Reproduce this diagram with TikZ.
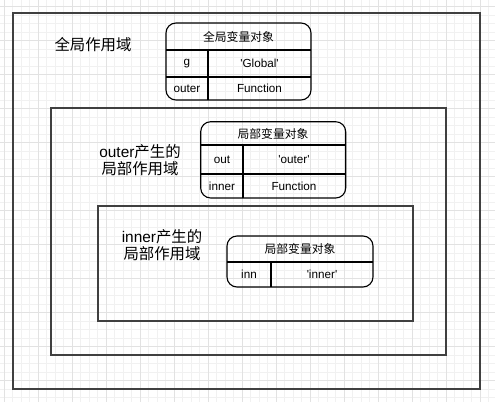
\documentclass[tikz,border=0pt]{standalone}
\usepackage{fontspec}
\setmainfont{Liberation Sans}
\newfontfamily\cjk{Noto Sans CJK SC}
\usetikzlibrary{positioning}
\definecolor{gridminor}{HTML}{F1F1F1}
\definecolor{gridmajor}{HTML}{E2E2E2}

\tikzset{
  scopebox/.style={draw=black!75, line width=1.3pt},
  vartable/.style={draw=black, line width=1.1pt, rounded corners=10pt},
  tabline/.style={draw=black, line width=1.1pt},
  cell/.style={font=\fontsize{11.7}{14}\selectfont, inner sep=0pt},
  headcell/.style={font=\fontsize{11.8}{14}\selectfont\cjk, inner sep=0pt},
  scopelabel/.style={font=\fontsize{15.4}{16.5}\selectfont\cjk, align=center, inner sep=0pt},
}

\begin{document}
\begin{tikzpicture}[x=1pt, y=-1pt]
  \useasboundingbox (0,0) rectangle (495,402);
  \fill[white] (0,0) rectangle (495,402);

  % background grid
  \foreach \i in {0,...,59} {
    \draw[gridminor, line width=0.6pt] ({-4.3+8.5*\i},0) -- ({-4.3+8.5*\i},402);
  }
  \foreach \j in {0,...,48} {
    \draw[gridminor, line width=0.6pt] (0,{-2+8.5*\j}) -- (495,{-2+8.5*\j});
  }
  \foreach \i in {0,...,15} {
    \draw[gridmajor, line width=0.6pt] ({4.2+34*\i},0) -- ({4.2+34*\i},402);
  }
  \foreach \j in {0,...,12} {
    \draw[gridmajor, line width=0.6pt] (0,{6.5+34*\j}) -- (495,{6.5+34*\j});
  }

  % nested scopes
  \draw[scopebox] (13,13) rectangle (480,389);
  \draw[scopebox] (51,108) rectangle (446,355);
  \draw[scopebox] (98,206) rectangle (413,321);

  \node[scopelabel] (globallabel) at (93,45) {全局作用域};
  \node[scopelabel] (outerlabel) at (140,160) {{\fontspec{Liberation Sans}outer}产生的\\局部作用域};
  \node[scopelabel] (innerlabel) at (162,245) {{\fontspec{Liberation Sans}inner}产生的\\局部作用域};

  % global variable object
  \draw[vartable] (166,23) rectangle (311,100);
  \draw[tabline] (166,50) -- (311,50);
  \draw[tabline] (166,77) -- (311,77);
  \draw[tabline] (208,50) -- (208,100);
  \node[headcell] (ghead) at (238.5,36.5) {全局变量对象};
  \node[cell] (gname) at (187,63.5) {g};
  \node[cell] (gval) at (259.5,63.5) {\textquotesingle Global\textquotesingle};
  \node[cell] (oname) at (187,88.5) {outer};
  \node[cell] (oval) at (259.5,88.5) {Function};

  % outer's variable object
  \draw[vartable] (200.7,121.7) rectangle (345.7,198);
  \draw[tabline] (200.7,145) -- (345.7,145);
  \draw[tabline] (200.7,174) -- (345.7,174);
  \draw[tabline] (243,145) -- (243,198);
  \node[headcell] (ohead) at (273,133.5) {局部变量对象};
  \node[cell] (outname) at (222,159.5) {out};
  \node[cell] (outval) at (294,159.5) {\textquotesingle outer\textquotesingle};
  \node[cell] (iname) at (222,186) {inner};
  \node[cell] (ival) at (294,186) {Function};

  % inner's variable object
  \draw[vartable] (227,236) rectangle (373,287);
  \draw[tabline] (227,262) -- (373,262);
  \draw[tabline] (271,262) -- (271,287);
  \node[headcell] (ihead) at (300,249) {局部变量对象};
  \node[cell] (innname) at (249,274.5) {inn};
  \node[cell] (innval) at (322,274.5) {\textquotesingle inner\textquotesingle};
\end{tikzpicture}
\end{document}
